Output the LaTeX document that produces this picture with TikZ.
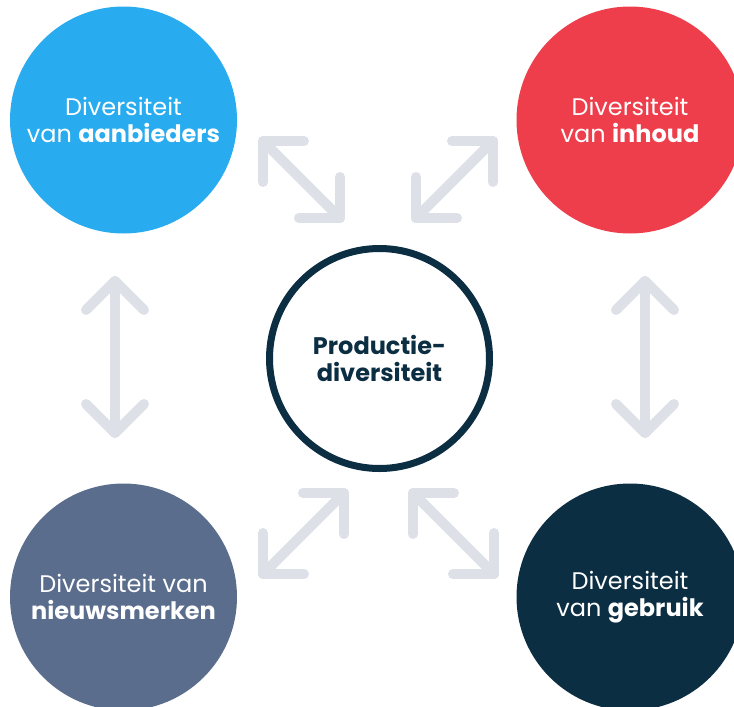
\documentclass[tikz,border=0pt]{standalone}
\usepackage{fontspec}
\setmainfont{Poppins}
\usetikzlibrary{calc}
\definecolor{cblue}{HTML}{28ABEF}
\definecolor{cred}{HTML}{EF3E4B}
\definecolor{cslate}{HTML}{5B6D8D}
\definecolor{cnavy}{HTML}{0C2E42}
\definecolor{carrow}{HTML}{DDE0E7}
\tikzset{
  bigcircle/.style={circle, minimum size=227pt, inner sep=0pt, text=white, align=center,
    font=\fontsize{24}{27.5}\selectfont},
  centercircle/.style={circle, draw=cnavy, line width=7pt, fill=white, minimum size=220pt,
    inner sep=0pt, text=cnavy, align=center, font=\bfseries\fontsize{24}{27}\selectfont},
  arrowline/.style={draw=carrow, line width=10pt, line cap=round, line join=round}
}
\newcommand{\dblarrow}[2]{%
  \draw[arrowline] (#1) -- (#2);
  \draw[arrowline] ($(#1)!41pt!45:(#2)$) -- (#1) -- ($(#1)!41pt!-45:(#2)$);
  \draw[arrowline] ($(#2)!41pt!45:(#1)$) -- (#2) -- ($(#2)!41pt!-45:(#1)$);
}
\begin{document}
\begin{tikzpicture}[x=1pt, y=-1pt]
\useasboundingbox (0,0) rectangle (734,707);
\clip (0,0) rectangle (734,707);
% arrows
\coordinate (lvA) at (115,281);
\coordinate (lvB) at (115,433);
\coordinate (rvA) at (645,281);
\coordinate (rvB) at (645,433);
\coordinate (tlA) at (263,141);
\coordinate (tlB) at (340,218);
\coordinate (trA) at (493,141);
\coordinate (trB) at (416,218);
\coordinate (blA) at (344,493);
\coordinate (blB) at (263,574);
\coordinate (brA) at (413,493);
\coordinate (brB) at (494,574);
\dblarrow{lvA}{lvB}
\dblarrow{rvA}{rvB}
\dblarrow{tlA}{tlB}
\dblarrow{trA}{trB}
\dblarrow{blA}{blB}
\dblarrow{brA}{brB}
% circles
\node[bigcircle, fill=cblue] (aanb) at (123.5,120) {Diversiteit\\van \textbf{aanbieders}};
\node[bigcircle, fill=cred] (inh) at (630,120) {Diversiteit\\van \textbf{inhoud}};
\node[bigcircle, fill=cslate] (nws) at (123.5,597) {Diversiteit van\\\textbf{nieuwsmerken}};
\node[bigcircle, fill=cnavy] (gebr) at (630,597) {Diversiteit\\van \textbf{gebruik}};
\node[centercircle] (prod) at (379.5,358.5) {Productie-\\diversiteit};
\end{tikzpicture}
\end{document}
